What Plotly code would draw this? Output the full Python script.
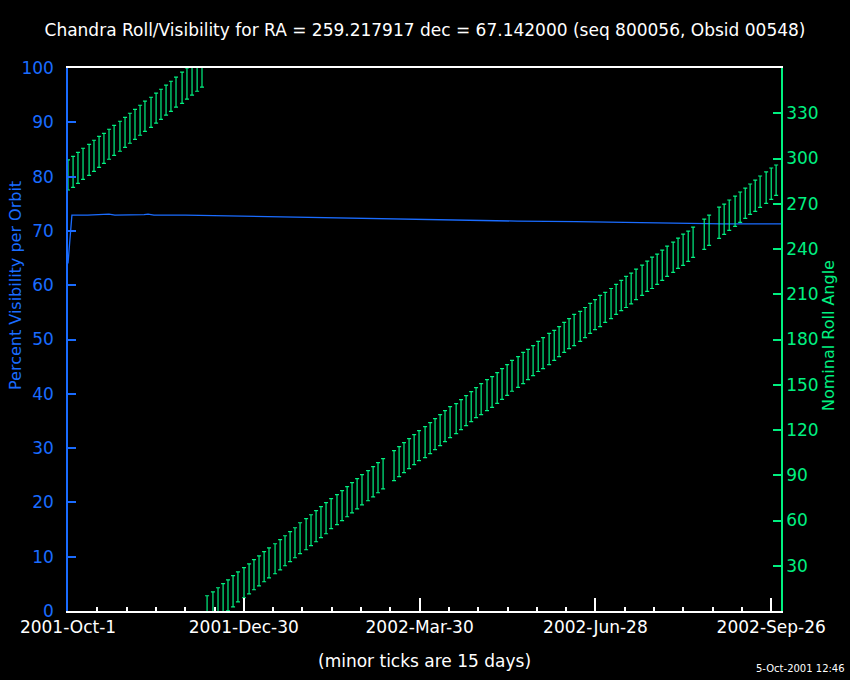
import pandas as pd
import plotly.graph_objects as go

# days after 2001-Oct-1 for each orbit bar, and nominal roll range (deg)
orbit_day = [
    0.0, 2.6, 5.1, 7.7, 10.8, 13.3, 15.9, 18.4, 21.0, 23.6,
    26.6, 29.2, 31.7, 34.3, 36.9, 39.4, 42.5, 45.1, 47.6, 50.2,
    52.7, 55.3, 58.4, 60.9, 63.5, 66.1, 68.6,
    71.2, 74.2, 76.8, 79.4, 81.9, 84.5, 87.0, 90.1, 92.7, 95.2,
    97.8, 100.4, 102.9, 106.0, 108.6, 111.1, 113.7, 116.2, 118.8, 121.9,
    124.4, 127.0, 129.5, 132.1, 134.7, 137.7, 140.3, 142.9, 145.4, 148.0,
    150.5, 153.6, 156.2, 158.7, 161.3, 166.9, 169.5, 172.0, 174.6, 177.2,
    179.7, 182.8, 185.4, 187.9, 190.5, 193.0, 195.6, 198.7, 201.2, 203.8,
    206.4, 208.9, 211.5, 214.5, 217.1, 219.7, 222.2, 224.8, 227.3, 230.4,
    233.0, 235.5, 238.1, 240.7, 243.2, 246.3, 248.9, 251.4, 254.0, 256.5,
    259.1, 262.2, 264.7, 267.3, 269.8, 272.4, 275.0, 278.0, 280.6, 283.2,
    285.7, 288.3, 290.8, 293.9, 296.5, 299.0, 301.6, 304.2, 306.7, 309.8,
    312.3, 314.9, 317.5, 320.0, 325.7, 328.2, 333.3, 335.9, 338.5, 341.5,
    344.1, 346.7, 349.2, 351.8, 354.3, 357.4, 360.0, 362.5,
]
roll_max = [
    299.1, 301.4, 304.1, 306.8, 309.4, 312.1, 314.7, 316.7, 319.4, 322.0,
    324.7, 327.3, 330.0, 332.6, 335.3, 338.0, 340.6, 343.3, 345.9, 348.6,
    351.2, 353.9, 357.2, 360.0, 362.6, 365.2, 367.9,
    10.1, 12.7, 15.4, 18.1, 20.7, 23.4, 26.0, 28.7, 31.3, 34.0,
    36.6, 39.3, 41.9, 44.6, 47.3, 49.9, 52.6, 55.2, 58.5, 61.2,
    63.8, 66.5, 69.2, 71.8, 74.5, 77.1, 79.8, 82.4, 85.1, 87.7,
    90.4, 93.1, 95.7, 98.4, 101.0, 106.3, 109.0, 111.6, 114.3, 116.9,
    119.6, 122.2, 124.9, 127.6, 130.2, 132.9, 135.5, 137.5, 140.2, 142.8,
    145.5, 148.1, 150.8, 153.4, 155.4, 158.1, 160.7, 163.4, 166.1, 168.7,
    171.4, 173.4, 176.0, 178.7, 181.3, 184.0, 186.0, 188.6, 191.3, 193.9,
    196.6, 198.6, 201.2, 203.9, 206.5, 209.2, 211.2, 213.8, 216.5, 219.2,
    221.8, 224.0, 226.7, 229.3, 232.0, 234.6, 236.6, 239.3, 241.9, 244.6,
    247.2, 249.9, 251.9, 254.5, 259.8, 262.5, 267.8, 269.8, 272.5, 275.1,
    277.8, 280.4, 283.1, 285.7, 288.4, 291.1, 293.7, 295.7,
]
roll_min = [
    279.1, 280.9, 283.5, 286.2, 288.8, 291.5, 294.1, 296.8, 299.5, 302.1,
    304.8, 307.4, 310.1, 312.7, 315.4, 318.0, 320.7, 323.4, 326.0, 328.7,
    331.3, 334.0, 336.6, 339.3, 342.0, 344.6, 347.3,
    -10.5, -7.9, -5.2, -2.5, 0.1, 2.8, 6.1, 8.8, 11.4, 14.1,
    16.7, 19.4, 22.0, 24.7, 27.3, 30.0, 32.7, 35.3, 38.0, 40.6,
    43.3, 45.9, 48.6, 51.2, 54.6, 57.2, 59.9, 62.5, 65.1, 67.7,
    70.4, 73.1, 75.7, 78.4, 81.0, 86.4, 89.1, 91.7, 94.4, 97.0,
    99.7, 101.7, 104.3, 107.0, 109.6, 112.3, 114.9, 117.6, 120.3, 122.9,
    125.6, 128.2, 130.2, 132.9, 135.0, 137.7, 140.3, 143.0, 145.7, 148.3,
    150.8, 153.4, 156.1, 158.8, 160.7, 163.4, 166.1, 168.7, 171.4, 174.0,
    176.0, 178.7, 181.3, 184.0, 186.6, 188.6, 191.3, 193.9, 196.6, 199.2,
    201.2, 203.6, 206.5, 209.2, 211.9, 213.8, 216.5, 219.2, 221.8, 224.5,
    227.1, 229.1, 231.8, 234.4, 239.7, 242.4, 247.0, 249.7, 252.3, 255.0,
    257.6, 260.3, 263.0, 264.9, 267.6, 270.3, 272.9, 275.6,
]

# percent visibility per orbit
vis_day = [0, 2, 10, 19, 21, 24, 30, 39, 41, 44, 60, 75, 100, 130, 160,
           190, 215, 230, 260, 290, 310, 335, 365]
vis_pct = [64.0, 72.9, 72.9, 73.0, 73.1, 72.9, 72.9, 73.0, 73.1, 72.9, 72.9, 72.8,
           72.6, 72.4, 72.2, 72.0, 71.9, 71.8, 71.7, 71.6, 71.45, 71.3, 71.3]

major_day = [0, 90, 180, 270, 360]
major_text = ["2001-Oct-1", "2001-Dec-30", "2002-Mar-30", "2002-Jun-28", "2002-Sep-26"]

BLUE = "#1a6cff"
GREEN = "#00f080"
FONT = "DejaVu Sans"

start = pd.Timestamp("2001-10-01")
orbit_x = start + pd.to_timedelta(orbit_day, unit="D")
vis_x = start + pd.to_timedelta(vis_day, unit="D")
tick_x = start + pd.to_timedelta(major_day, unit="D")

mid = [(a + b) / 2 for a, b in zip(roll_min, roll_max)]
up = [b - m for b, m in zip(roll_max, mid)]
down = [m - a for a, m in zip(roll_min, mid)]

W, H = 850, 680
fig = go.Figure()

fig.add_trace(go.Scatter(
    x=vis_x, y=vis_pct, mode="lines",
    line=dict(color=BLUE, width=1.3), yaxis="y",
))

fig.add_trace(go.Scatter(
    x=orbit_x, y=mid, mode="markers",
    marker=dict(size=1, color="rgba(0,0,0,0)"),
    error_y=dict(type="data", symmetric=False, array=up, arrayminus=down,
                 color=GREEN, thickness=1.2, width=2),
    yaxis="y2",
))

fig.update_layout(
    width=W, height=H,
    paper_bgcolor="black", plot_bgcolor="black",
    showlegend=False,
    margin=dict(l=68, r=69, t=68, b=69, autoexpand=False),
    font=dict(family=FONT, color="white"),
    title=dict(
        text="Chandra Roll/Visibility for RA = 259.217917 dec = 67.142000 (seq 800056, Obsid 00548)",
        x=425 / W, xanchor="center", y=1 - 30 / H, yanchor="middle",
        yref="container", font=dict(size=17, color="white", family=FONT),
    ),
    xaxis=dict(
        type="date", range=[start, start + pd.Timedelta(days=365)],
        tickvals=tick_x, ticktext=major_text,
        ticks="inside", ticklen=13, tickwidth=1.5, tickcolor="white",
        tickfont=dict(size=17, color="white"),
        showline=True, linecolor="white", linewidth=1.5, mirror=True,
        showgrid=False, zeroline=False,
        minor=dict(ticks="inside", ticklen=4, tickcolor="white", tickwidth=1.5,
                   dtick=15 * 86400000, tick0=start, showgrid=False),
    ),
    yaxis=dict(
        range=[0, 100], tickvals=list(range(0, 101, 10)),
        ticks="inside", ticklen=8, tickwidth=1.5, tickcolor=BLUE,
        tickfont=dict(size=17, color=BLUE),
        showline=True, linecolor=BLUE, linewidth=1.5,
        showgrid=False, zeroline=False, ticklabelstandoff=9,
    ),
    yaxis2=dict(
        range=[0, 360], tickvals=list(range(30, 331, 30)),
        overlaying="y", side="right",
        ticks="inside", ticklen=8, tickwidth=1.5, tickcolor=GREEN,
        tickfont=dict(size=17, color=GREEN),
        showline=True, linecolor=GREEN, linewidth=1.5,
        showgrid=False, zeroline=False, ticklabelstandoff=0,
    ),
)

fig.add_annotation(
    text="Percent Visibility per Orbit", textangle=-90,
    xref="paper", yref="paper", x=(15 - 68) / 713, y=(611 - 286) / 543,
    xanchor="center", yanchor="middle", showarrow=False,
    font=dict(size=16, color=BLUE),
)
fig.add_annotation(
    text="Nominal Roll Angle", textangle=-90,
    xref="paper", yref="paper", x=(828 - 68) / 713, y=(611 - 336) / 543,
    xanchor="center", yanchor="middle", showarrow=False,
    font=dict(size=16, color=GREEN),
)
fig.add_annotation(
    text="(minor ticks are 15 days)",
    xref="paper", yref="paper", x=0.5, y=(611 - 661) / 543,
    xanchor="center", yanchor="middle", showarrow=False,
    font=dict(size=17, color="white"),
)
fig.add_annotation(
    text="5-Oct-2001 12:46",
    xref="paper", yref="paper", x=(847 - 68) / 713, y=(611 - 668) / 543,
    xanchor="right", yanchor="middle", showarrow=False,
    font=dict(size=10, color="white"),
)

# drop the page's default white body margin so the black figure fills the window
fig.write_html(
    "out.html",
    config={"displayModeBar": False},
    post_script="document.body.style.margin='0';document.body.style.background='black';",
)
